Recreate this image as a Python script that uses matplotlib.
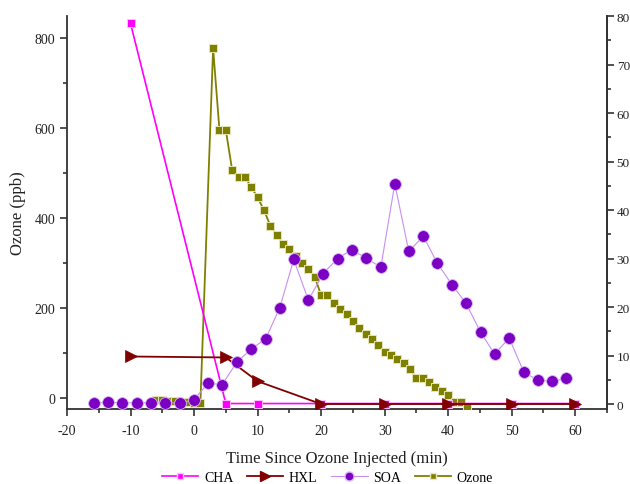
import matplotlib
matplotlib.use("Agg")
import matplotlib.pyplot as plt
from matplotlib.ticker import MultipleLocator
from matplotlib.lines import Line2D

plt.rcParams['font.family'] = ['Liberation Serif', 'DejaVu Serif']

# ---- data ----
cha_t = [-10, 5, 10, 20, 30, 40, 50, 60]
cha_v = [78.5, 0.1, 0.1, 0.1, 0.1, 0.1, 0.1, 0.1]

hxl_t = [-10, 5, 10, 20, 30, 40, 50, 60]
hxl_v = [9.8, 9.6, 4.7, 0.0, 0.0, 0.0, 0.0, 0.0]

soa_t = [-15.8, -13.5, -11.3, -9.0, -6.7, -4.5, -2.2, 0.0, 2.2, 4.4, 6.8, 9.0,
         11.3, 13.5, 15.7, 18.0, 20.3, 22.6, 24.8, 27.1, 29.4, 31.6, 33.8, 36.1,
         38.3, 40.6, 42.8, 45.1, 47.3, 49.6, 51.9, 54.1, 56.4, 58.6]
soa_v = [0.2, 0.35, 0.25, 0.25, 0.25, 0.25, 0.2, 0.9, 4.3, 4.0, 8.7, 11.3,
         13.5, 19.9, 29.8, 21.4, 26.9, 30.0, 31.8, 30.1, 28.2, 45.4, 31.5, 34.6,
         29.0, 24.6, 20.8, 14.8, 10.3, 13.6, 6.6, 4.9, 4.7, 5.3]

ozone_t = [-6, -5, -4, -3, -2, -1, 0, 1, 3, 4, 5, 6, 7, 8, 9, 10, 11, 12, 13,
           14, 15, 16, 17, 18, 19, 20, 21, 22, 23, 24, 25, 26, 27, 28, 29, 30,
           31, 32, 33, 34, 35, 36, 37, 38, 39, 40, 41, 42, 43]
ozone_v = [-5, -6, -7, -8, -9, -10, -11, -12, 778, 596, 596, 507, 492, 492,
           469, 446, 418, 383, 363, 342, 330, 315, 300, 286, 269, 228, 228,
           210, 198, 187, 170, 154, 142, 131, 117, 101, 94, 85, 76, 64, 43, 43,
           34, 24, 14, 5, -9, -9, -20]

x_ticks = [-20, -10, 0, 10, 20, 30, 40, 50, 60]
left_ticks = [0, 200, 400, 600, 800]
right_ticks = [0, 10, 20, 30, 40, 50, 60, 70, 80]

# ---- styles ----
c_cha = '#ff00ff'
c_hxl = '#800000'
c_soa = '#7b00c4'
c_soa_line = '#c88ef0'
c_oz = '#808000'

fig = plt.figure(figsize=(6.3, 4.85), dpi=100)
ax = fig.add_axes([0.1063, 0.1546, 0.8572, 0.8103])
ax2 = ax.twinx()

ax.plot(ozone_t, ozone_v, color=c_oz, lw=1.3, marker='s', ms=6.3,
        mfc=c_oz, mec='#e6e6b8', mew=0.7, zorder=3)

ax2.plot(cha_t, cha_v, color=c_cha, lw=1.2, marker='s', ms=6.3,
         mfc=c_cha, mec='#ffc0ff', mew=0.7, zorder=3)
ax2.plot(hxl_t, hxl_v, color=c_hxl, lw=1.3, marker='>', ms=8,
         mfc=c_hxl, mec=c_hxl, mew=0.5, zorder=4)
ax2.plot(soa_t, soa_v, color=c_soa_line, lw=0.8, marker='o', ms=8.5,
         mfc=c_soa, mec='#d9b8f0', mew=0.6, zorder=5)

ax.set_xlim(-20, 65)
ax.set_ylim(-25.5, 850)
ax2.set_ylim(-1.03, 80)

ax.set_xticks(x_ticks)
ax.set_xticklabels([str(v) for v in x_ticks])
ax.xaxis.set_minor_locator(MultipleLocator(5))
ax.set_yticks(left_ticks)
ax.yaxis.set_minor_locator(MultipleLocator(100))
ax2.set_yticks(right_ticks)
ax2.yaxis.set_minor_locator(MultipleLocator(5))

for a in (ax, ax2):
    a.spines['top'].set_visible(False)
    for s in a.spines.values():
        s.set_linewidth(1.3)
        s.set_color('#333333')
    a.tick_params(which='major', direction='out', length=5, width=1.2,
                  colors='#333333', labelsize=10, labelcolor='#222222')
    a.tick_params(which='minor', direction='out', length=3, width=1.2,
                  colors='#333333')
ax.tick_params(axis='x', which='major', pad=6)
ax2.tick_params(axis='y', which='major', pad=2, labelsize=9.5)
ax2.spines['left'].set_visible(False)
ax2.spines['bottom'].set_visible(False)

ax.set_xlabel('Time Since Ozone Injected (min)', fontsize=12, labelpad=9,
              color='#222222')
ax.set_ylabel('Ozone (ppb)', fontsize=12, labelpad=6, color='#222222')

handles = [
    Line2D([], [], color=c_cha, lw=1.2, marker='s', ms=5, mfc=c_cha, mec='#ffc0ff'),
    Line2D([], [], color=c_hxl, lw=1.3, marker='>', ms=6.5, mfc=c_hxl, mec=c_hxl),
    Line2D([], [], color=c_soa_line, lw=0.8, marker='o', ms=6.5, mfc=c_soa, mec='#d9b8f0'),
    Line2D([], [], color=c_oz, lw=1.3, marker='s', ms=5, mfc=c_oz, mec='#e6e6b8'),
]
fig.legend(handles, ['CHA', 'HXL', 'SOA', 'Ozone'], ncol=4, frameon=False,
           loc='center', bbox_to_anchor=(0.52, 0.013), fontsize=10,
           handlelength=2.6, columnspacing=1.0, handletextpad=0.4)

fig.savefig('out.png', dpi=100)
